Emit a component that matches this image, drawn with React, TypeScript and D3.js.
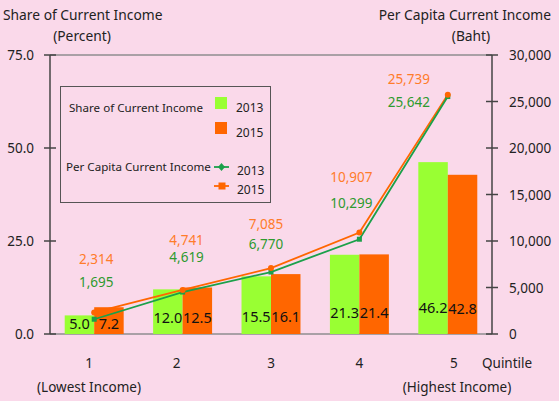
import React from "react";
import * as d3 from "d3";

const categories = ["1", "2", "3", "4", "5"];
const share2013 = [5.0, 12.0, 15.5, 21.3, 46.2];
const share2015 = [7.2, 12.5, 16.1, 21.4, 42.8];
const income2013 = [1695, 4619, 6770, 10299, 25642];
const income2015 = [2314, 4741, 7085, 10907, 25739];
const leftTicks = [0, 25, 50, 75];
const rightTicks = [0, 5000, 10000, 15000, 20000, 25000, 30000];
// label layout offsets (pixels)
const labelDx = [2, 4, -5, -8, -39];
const greenDy = [-31, -29, -22, -30, 11];
const orangeDy = [-54, -46, -42, -56, -12];
const barLabelY = [329, 323, 322, 318, 313];

const W = 559, H = 401;
const L = 50, R = 492, T = 55, B = 334;
const BG = "#FAD9EA";
const GREEN = "#99FF33";
const ORANGE = "#FF6600";
const LGREEN = "#1BA04A";
const TGREEN = "#2E9A2E";
const TORANGE = "#FF7C2A";
const FONT = "'Noto Sans', 'Open Sans', sans-serif";

export default function App() {
  const x = d3.scaleBand<string>().domain(categories).range([L, R]).paddingInner(0.333).paddingOuter(0.1665);
  const bw = x.bandwidth() / 2;
  const yL = d3.scaleLinear().domain([0, 75]).range([B, T]);
  const yR = d3.scaleLinear().domain([0, 30000]).range([B, T]);
  const cx = (c: string) => (x(c) as number) + x.bandwidth() / 2;
  const line = d3.line<number>().x((_, i) => cx(categories[i])).y((d) => yR(d));

  return (
    <svg width={W} height={H} style={{ position: "absolute", left: 0, top: 0, fontFamily: FONT }}>
      <rect x={0} y={0} width={W} height={H} fill={BG} />
      {/* titles */}
      <text x={3} y={20} fontSize={13.8} fill="#222">Share of Current Income</text>
      <text x={82} y={41} fontSize={13.8} fill="#222" textAnchor="middle">(Percent)</text>
      <text x={551} y={20} fontSize={13.8} fill="#222" textAnchor="end">Per Capita Current Income</text>
      <text x={471} y={41} fontSize={13.8} fill="#222" textAnchor="middle">(Baht)</text>

      {/* top and bottom gridlines */}
      <line x1={L} x2={R} y1={T} y2={T} stroke="#A9A0A6" strokeWidth={2} />
      <line x1={L} x2={R} y1={B} y2={B} stroke="#A9A0A6" strokeWidth={2} />

      {/* bars */}
      {categories.map((c, i) => (
        <g key={c}>
          <rect x={x(c)} y={yL(share2013[i])} width={bw} height={B - yL(share2013[i])} fill={GREEN} />
          <rect x={(x(c) as number) + bw} y={yL(share2015[i])} width={bw} height={B - yL(share2015[i])} fill={ORANGE} />
          <text x={(x(c) as number) + bw / 2} y={barLabelY[i]} fontSize={14.5} textAnchor="middle" fill="#111">{d3.format(".1f")(share2013[i])}</text>
          <text x={(x(c) as number) + bw * 1.5} y={barLabelY[i] + (i === 4 ? 1 : 0)} fontSize={14.5} textAnchor="middle" fill="#111">{d3.format(".1f")(share2015[i])}</text>
        </g>
      ))}

      {/* axes */}
      <line x1={L} x2={L} y1={T} y2={B} stroke="#444" strokeWidth={1.5} />
      <line x1={R} x2={R} y1={T} y2={B} stroke="#444" strokeWidth={1.5} />
      {leftTicks.map((t) => (
        <g key={t}>
          <line x1={L - 6} x2={L + 6} y1={yL(t)} y2={yL(t)} stroke="#444" strokeWidth={1.5} />
          <text x={34} y={yL(t) + 5} fontSize={13.5} textAnchor="end" fill="#222">{d3.format(".1f")(t)}</text>
        </g>
      ))}
      {rightTicks.map((t) => (
        <g key={t}>
          <line x1={R - 6} x2={R + 6} y1={yR(t)} y2={yR(t)} stroke="#444" strokeWidth={1.5} />
          <text x={509} y={yR(t) + 5} fontSize={13.5} textAnchor="start" fill="#222">{d3.format(",")(t)}</text>
        </g>
      ))}

      {/* lines */}
      <path d={line(income2015) as string} fill="none" stroke={ORANGE} strokeWidth={1.8} />
      <path d={line(income2013) as string} fill="none" stroke={LGREEN} strokeWidth={1.8} transform="translate(0,1)" />
      {income2013.map((v, i) => (
        <rect key={"g" + i} x={cx(categories[i]) - 2.5} y={yR(v) - 1.5} width={5} height={5} fill={LGREEN} />
      ))}
      {income2015.map((v, i) => (
        <circle key={"o" + i} cx={cx(categories[i])} cy={yR(v)} r={3} fill={ORANGE} />
      ))}
      {categories.map((c, i) => (
        <g key={"lbl" + c}>
          <text x={cx(c) + labelDx[i]} y={yR(income2013[i]) + greenDy[i]} fontSize={13.5} textAnchor="middle" fill={TGREEN}>{d3.format(",")(income2013[i])}</text>
          <text x={cx(c) + labelDx[i]} y={yR(income2013[i]) + orangeDy[i]} fontSize={13.5} textAnchor="middle" fill={TORANGE}>{d3.format(",")(income2015[i])}</text>
        </g>
      ))}

      {/* category labels */}
      {categories.map((c, i) => (
        <text key={"c" + c} x={cx(c) + [-5, -6, 0, 0, 6][i]} y={368} fontSize={13.5} textAnchor="middle" fill="#222">{c}</text>
      ))}
      <text x={482} y={368} fontSize={13.5} fill="#222">Quintile</text>
      <text x={89} y={392} fontSize={13.5} textAnchor="middle" fill="#222">(Lowest Income)</text>
      <text x={457} y={392} fontSize={13.5} textAnchor="middle" fill="#222">(Highest Income)</text>

      {/* legend */}
      <rect x={60.5} y={86.5} width={210} height={116} fill="none" stroke="#555" strokeWidth={1} />
      <text x={69} y={112} fontSize={11.6} fill="#222">Share of Current Income</text>
      <rect x={215} y={97} width={12} height={12} fill={GREEN} />
      <text x={236} y={112} fontSize={12} fill="#222">2013</text>
      <rect x={215} y={122} width={12} height={12} fill={ORANGE} />
      <text x={236} y={137} fontSize={12} fill="#222">2015</text>
      <text x={66} y={171} fontSize={11.6} fill="#222">Per Capita Current Income</text>
      <line x1={214} x2={229} y1={167} y2={167} stroke={LGREEN} strokeWidth={1.8} />
      <path d="M221.5,163 L225,167 L221.5,171 L218,167 Z" fill={LGREEN} />
      <text x={237} y={175} fontSize={12} fill="#222">2013</text>
      <line x1={214} x2={229} y1={186} y2={186} stroke={ORANGE} strokeWidth={1.8} />
      <rect x={218.5} y={182.5} width={7} height={7} fill={ORANGE} />
      <text x={237} y={194} fontSize={12} fill="#222">2015</text>
    </svg>
  );
}
